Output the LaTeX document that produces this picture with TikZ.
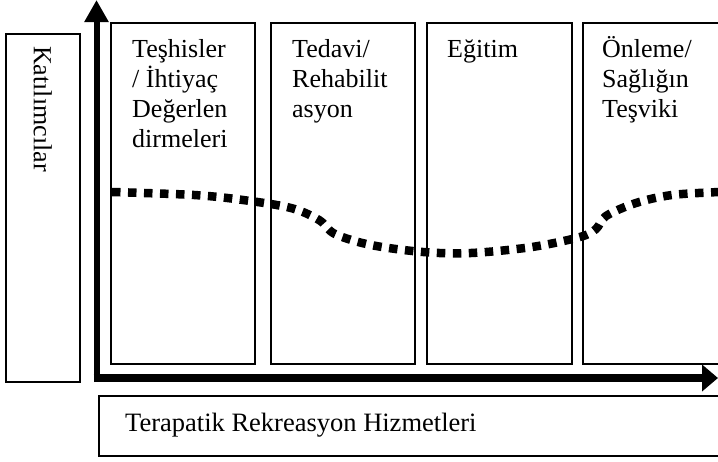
\documentclass[tikz,border=0pt]{standalone}
\usepackage{fontspec}
\setmainfont{Liberation Serif}
\usetikzlibrary{arrows.meta}
\begin{document}
\begin{tikzpicture}[x=1pt,y=-1pt,
  box/.style={draw, line width=1.6pt, inner sep=0pt, anchor=north west},
  lbl/.style={font=\fontsize{26}{30}\selectfont, inner sep=0pt, anchor=base west},
  vaxis/.style={line width=6pt, -{Triangle[length=22pt,width=23pt]}},
  haxis/.style={line width=8pt, -{Triangle[length=16pt,width=26pt]}},
  dotline/.style={line width=8.5pt, dash pattern=on 8.5pt off 7.5pt}]
\useasboundingbox (0,0) rectangle (718,461);
\clip (0,0) rectangle (718,461);
% left box
\node[box, minimum width=74pt, minimum height=348pt] (kbox) at (5,33) {};
\node[lbl, rotate=-90] (kat) at (34,46) {Katılımcılar};
% column boxes
\node[box, minimum width=144pt, minimum height=341pt] (c1) at (110,22) {};
\node[box, minimum width=144pt, minimum height=341pt] (c2) at (270,22) {};
\node[box, minimum width=145pt, minimum height=341pt] (c3) at (426,22) {};
\node[box, minimum width=150pt, minimum height=341pt] (c4) at (582,22) {};
\node[lbl] (t1) at (132,57) {\begin{tabular}[t]{@{}l@{}}Teşhisler\\/ İhtiyaç\\Değerlen\\dirmeleri\end{tabular}};
\node[lbl] (t2) at (292,57) {\begin{tabular}[t]{@{}l@{}}Tedavi/\\Rehabilit\\asyon\end{tabular}};
\node[lbl] (t3) at (447,57) {\begin{tabular}[t]{@{}l@{}}Eğitim\end{tabular}};
\node[lbl] (t4) at (602,57) {\begin{tabular}[t]{@{}l@{}}Önleme/\\Sağlığın\\Teşviki\end{tabular}};
% bottom label box
\node[box, minimum width=640pt, minimum height=60pt] (hbox) at (98,395) {};
\node[lbl, font=\fontsize{26.5}{30}\selectfont] (hiz) at (125,431) {Terapatik Rekreasyon Hizmetleri};
% axes
\coordinate (corner) at (96.5,382);
\coordinate (hstart) at (93.5,378);
\coordinate (ytop) at (96.5,0);
\coordinate (xend) at (718,378);
\draw[vaxis] (corner) -- (ytop);
\draw[haxis] (hstart) -- (xend);
% dotted curve
\draw[dotline] plot[smooth, tension=0.55] coordinates {
 (112,192) (194,195) (243,200) (291,208) (319,220) (335,234) (371,245)
 (423,252) (471,253) (532,247) (580,237) (596,229) (606,216) (636,203)
 (672,195) (720,192)};
\end{tikzpicture}
\end{document}
